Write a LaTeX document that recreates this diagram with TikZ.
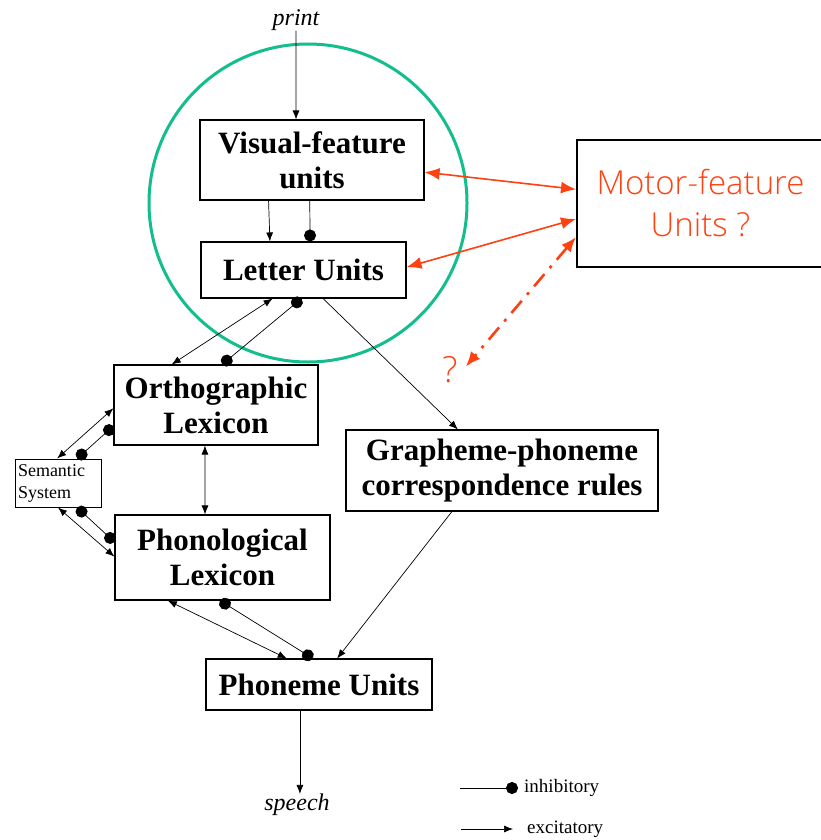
\documentclass[tikz,border=0pt]{standalone}
\usepackage{fontspec}
\setmainfont{Liberation Serif}
\newfontfamily\handfont{Open Sans Light}
\usetikzlibrary{arrows.meta,calc}
\definecolor{redo}{RGB}{255,64,16}
\definecolor{teal2}{RGB}{20,190,140}
\tikzset{
  box/.style={draw, line width=1.1pt, align=center, inner sep=0pt, font=\fontsize{31}{35}\selectfont\bfseries},
  exc/.style={-{Latex[length=9pt,width=7pt]}, line width=0.7pt},
  bexc/.style={{Latex[length=9pt,width=7pt]}-{Latex[length=9pt,width=7pt]}, line width=0.7pt},
  inh/.style={{Circle[length=12pt]}-{Circle[length=12pt]}, line width=0.7pt},
  inhone/.style={-{Circle[length=12pt]}, line width=0.7pt},
  redarr/.style={{Latex[length=15pt,width=12pt]}-{Latex[length=15pt,width=12pt]}, line width=1.6pt, draw=redo},
  lbl/.style={font=\fontsize{24}{28}\selectfont\itshape, inner sep=0pt},
  leg/.style={font=\fontsize{19}{22}\selectfont, anchor=west, inner sep=0pt}
}
\begin{document}
\begin{tikzpicture}[x=1pt,y=-1pt]
\useasboundingbox (0,0) rectangle (821,840);
\clip (0,0) rectangle (821,840);
\fill[white] (0,0) rectangle (821,840);

% circle
\draw[teal2, line width=3pt] (308,203) circle (159);

% nodes
\node[lbl] (print) at (296,20) {print};
\node[lbl] (speech) at (297,805) {speech};
\node[box, minimum width=224pt, minimum height=80pt] (vf) at (312,160) {Visual-feature\\units};
\node[box, minimum width=205pt, minimum height=56pt] (lu) at (303.5,270) {Letter Units};
\node[box, minimum width=204pt, minimum height=80pt] (ol) at (216,405) {Orthographic\\Lexicon};
\node[box, minimum width=215pt, minimum height=85pt] (pl) at (222.5,557.5) {Phonological\\Lexicon};
\node[box, minimum width=312pt, minimum height=81pt] (gp) at (502,470.5) {Grapheme-phoneme\\correspondence rules};
\node[box, minimum width=226pt, minimum height=51pt] (pu) at (319,684.5) {Phoneme Units};
\node[draw, line width=1pt, minimum width=86pt, minimum height=48pt, inner sep=0pt, align=left,
      text width=80pt, font=\fontsize{18}{22}\selectfont] (ss) at (58,483) {Semantic\\System};
\node[draw, line width=2pt, minimum width=247pt, minimum height=127pt, inner sep=0pt, align=center,
      text=redo, font=\handfont\fontsize{33}{42}\selectfont] (mf) at (700.5,203.5) {Motor-feature\\Units ?};
\node[text=redo, font=\handfont\fontsize{36}{40}\selectfont, inner sep=0pt] (q) at (450,370) {?};

% print / speech
\draw[exc] (print.south) -- ($(vf.north west)!0.429!(vf.north east)$);
\coordinate (pus) at ($(pu.south west)!0.416!(pu.south east)$);
\draw[exc] (pus) -- (pus |- speech.north);

% visual -> letter
\draw[exc] ($(vf.south west)!0.307!(vf.south east)$) -- ($(lu.north west)!0.337!(lu.north east)$);
\draw[inhone] ($(vf.south west)!0.49!(vf.south east)$) -- ($(lu.north west)!0.532!(lu.north east)$);

% letter <-> ortho
\draw[bexc] ($(lu.south west)!0.35!(lu.south east)$) -- ($(ol.north west)!0.284!(ol.north east)$);
\draw[inh] ($(lu.south west)!0.49!(lu.south east)$) -- ($(ol.north west)!0.53!(ol.north east)$);
% letter -> grapheme
\draw[exc] ($(lu.south west)!0.595!(lu.south east)$) -- ($(gp.north west)!0.359!(gp.north east)$);

% ortho <-> phono
\draw[bexc] ($(ol.south west)!0.446!(ol.south east)$) -- ($(pl.north west)!0.419!(pl.north east)$);

% ortho <-> semantic
\draw[bexc] ($(ol.north west)!0.54!(ol.south west)$) -- ($(ss.north west)!0.49!(ss.north east)$);
\draw[inh] ($(ol.north west)!0.76!(ol.south west)$) -- ($(ss.north west)!0.72!(ss.north east)$);

% semantic <-> phono
\draw[inh] ($(ss.south west)!0.72!(ss.south east)$) -- ($(pl.north west)!0.32!(pl.south west)$);
\draw[bexc] ($(ss.south west)!0.5!(ss.south east)$) -- ($(pl.north west)!0.49!(pl.south west)$);

% phono <-> phoneme
\draw[bexc] ($(pl.south west)!0.247!(pl.south east)$) -- ($(pu.north west)!0.358!(pu.north east)$);
\draw[inh] ($(pl.south west)!0.488!(pl.south east)$) -- ($(pu.north west)!0.473!(pu.north east)$);
% grapheme -> phoneme
\draw[exc] ($(gp.south west)!0.34!(gp.south east)$) -- ($(pu.north west)!0.58!(pu.north east)$);

% red connectors
\draw[redarr] ($(vf.north east)!0.65!(vf.south east)$) -- ($(mf.north west)!0.39!(mf.south west)$);
\draw[redarr] ($(lu.north east)!0.45!(lu.south east)$) -- ($(mf.north west)!0.62!(mf.south west)$);
\draw[redarr, line width=2.6pt, dash pattern=on 16pt off 8pt on 3pt off 8pt] ($(mf.north west)!0.76!(mf.south west)$) -- ([shift={(8pt,-10pt)}]q.north east);

% legend
\coordinate (li1) at (460,788);
\node[leg] (inhl) at (524,788) {inhibitory};
\draw[inhone] (li1) -- ([xshift=-6pt]inhl.west);
\coordinate (le1) at (461,829);
\node[leg] (excl) at (527,829) {excitatory};
\draw[exc] (le1) -- ([xshift=-14pt]excl.west);
\end{tikzpicture}
\end{document}
